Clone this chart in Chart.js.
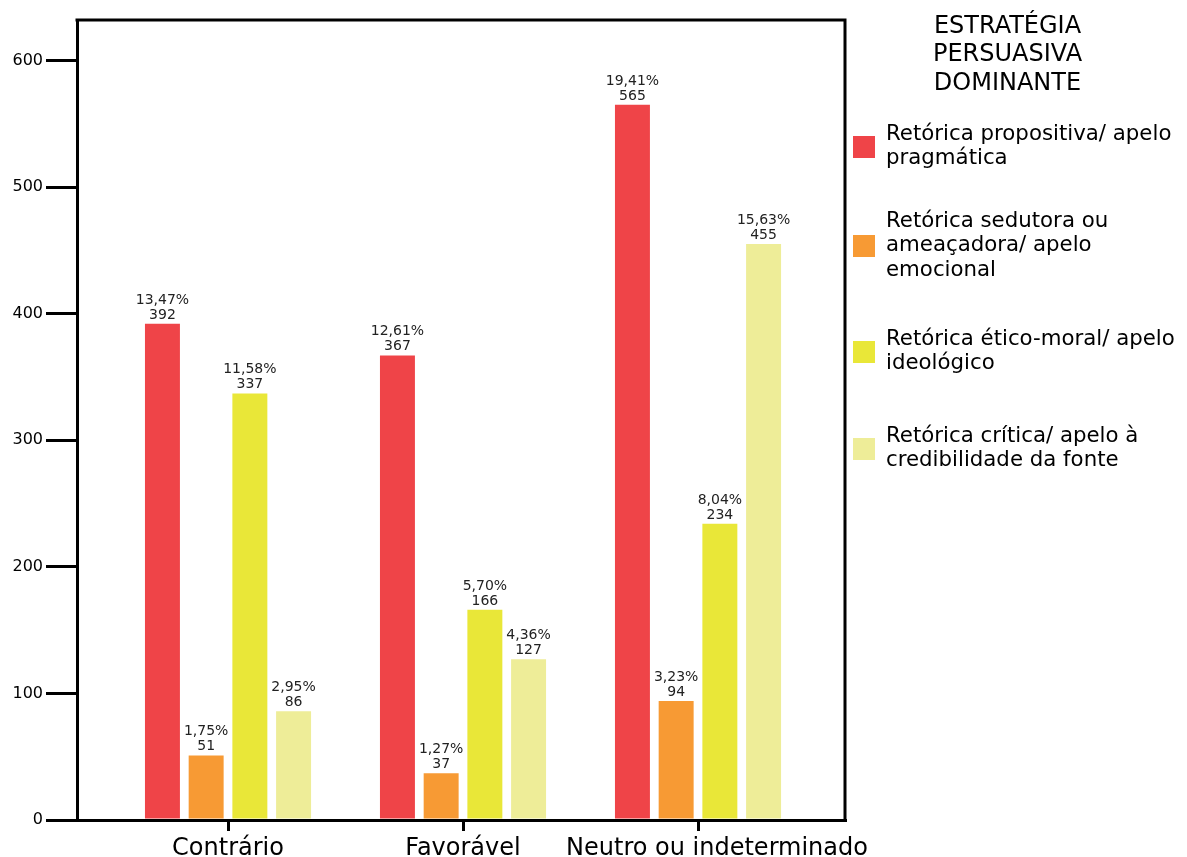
<!DOCTYPE html>
<html>
<head>
<meta charset="utf-8">
<script src="https://cdn.jsdelivr.net/npm/chart.js@4/dist/chart.umd.min.js"></script>
<style>
  html, body { margin: 0; padding: 0; background: #fff; }
  #wrap { position: relative; width: 1187px; height: 857px; font-family: 'DejaVu Sans', sans-serif; color: #000; }
  #c { position: absolute; left: 0; top: 0; }
  #ltitle { position: absolute; left: 907px; width: 201px; top: 10.5px; text-align: center; font-size: 24px; line-height: 28.5px; }
  .item { position: absolute; left: 853px; width: 334px; }
  .box { position: absolute; left: 0; width: 22px; height: 22px; }
  .txt { position: absolute; left: 33px; top: 0; font-size: 21.3px; line-height: 24.5px; white-space: nowrap; }
</style>
</head>
<body>
<div id="wrap">
  <canvas id="c" width="1187" height="857"></canvas>
  <div id="ltitle">ESTRATÉGIA<br>PERSUASIVA<br>DOMINANTE</div>
  <div id="legend"></div>
</div>
<script>
const categories = ["Contrário", "Favorável", "Neutro ou indeterminado"];
const seriesNames = [
  ["Retórica propositiva/ apelo", "pragmática"],
  ["Retórica sedutora ou", "ameaçadora/ apelo", "emocional"],
  ["Retórica ético-moral/ apelo", "ideológico"],
  ["Retórica crítica/ apelo à", "credibilidade da fonte"]
];
const propositiva = [392, 367, 565];
const sedutora = [51, 37, 94];
const eticoMoral = [337, 166, 234];
const critica = [86, 127, 455];
const propositivaPct = ["13,47%", "12,61%", "19,41%"];
const sedutoraPct = ["1,75%", "1,27%", "3,23%"];
const eticoMoralPct = ["11,58%", "5,70%", "8,04%"];
const criticaPct = ["2,95%", "4,36%", "15,63%"];
const yTicks = [0, 100, 200, 300, 400, 500, 600];
const colors = ["#EF4448", "#F79A34", "#E9E738", "#EEED98"];

const values = [propositiva, sedutora, eticoMoral, critica];
const pcts = [propositivaPct, sedutoraPct, eticoMoralPct, criticaPct];

const FONT = "'DejaVu Sans', sans-serif";

const datasets = values.map((vals, si) => ({
  label: seriesNames[si].join(" "),
  data: vals.map((v, i) => ({ x: i, y: v })),
  pct: pcts[si],
  backgroundColor: colors[si],
  borderWidth: 0,
  barPercentage: 0.8,
  categoryPercentage: 0.744
}));

const labelPlugin = {
  id: 'barLabels',
  afterDatasetsDraw(chart) {
    const ctx = chart.ctx;
    ctx.save();
    ctx.font = "14px " + FONT;
    ctx.fillStyle = "#222";
    ctx.textAlign = "center";
    ctx.textBaseline = "alphabetic";
    chart.data.datasets.forEach((ds, di) => {
      const meta = chart.getDatasetMeta(di);
      meta.data.forEach((el, i) => {
        ctx.fillText(String(ds.data[i].y), el.x, el.y - 5);
        ctx.fillText(ds.pct[i], el.x, el.y - 20);
      });
    });
    ctx.restore();
  }
};

// category labels drawn at the x scale tick positions; the last one is nudged right
// so that it does not collide with its neighbour (as in the original)
const LAST_LABEL_NUDGE = 19;
const xLabelPlugin = {
  id: 'xLabels',
  afterDraw(chart) {
    const s = chart.scales.x;
    const ctx = chart.ctx;
    ctx.save();
    ctx.font = "24px " + FONT;
    ctx.fillStyle = "#000";
    ctx.textAlign = "center";
    ctx.textBaseline = "alphabetic";
    categories.forEach((c, i) => {
      const nudge = i === categories.length - 1 ? LAST_LABEL_NUDGE : 0;
      ctx.fillText(c, s.getPixelForValue(i) + nudge, s.top + 35);
    });
    ctx.restore();
  }
};

const framePlugin = {
  id: 'frame',
  afterDraw(chart) {
    const a = chart.chartArea;
    const ctx = chart.ctx;
    ctx.save();
    ctx.strokeStyle = "#000";
    ctx.lineWidth = 3;
    ctx.beginPath();
    ctx.moveTo(a.left - 1.5, a.top);
    ctx.lineTo(a.right, a.top);
    ctx.lineTo(a.right, a.bottom + 1.5);
    ctx.stroke();
    ctx.restore();
  }
};

new Chart(document.getElementById('c'), {
  type: 'bar',
  data: { datasets },
  plugins: [labelPlugin, xLabelPlugin, framePlugin],
  options: {
    responsive: false,
    animation: false,
    layout: { padding: { left: 0, top: 20, right: 342, bottom: 0 } },
    plugins: { legend: { display: false }, tooltip: { enabled: false } },
    scales: {
      x: {
        type: 'linear',
        offset: false,
        bounds: 'data',
        min: -0.6426,
        max: 2.6255,
        afterBuildTicks: (s) => { s.ticks = categories.map((c, i) => ({ value: i })); },
        afterFit: (s) => { s.height = 37; },
        grid: { offset: false, drawOnChartArea: false, drawTicks: true, tickLength: 11, color: "#000", lineWidth: 3 },
        border: { display: true, color: "#000", width: 3 },
        ticks: { display: false, autoSkip: false, maxRotation: 0, minRotation: 0 }
      },
      y: {
        min: 0,
        max: 632,
        afterBuildTicks: (s) => { s.ticks = yTicks.map(v => ({ value: v })); },
        afterFit: (s) => { s.width = 77; },
        grid: { drawOnChartArea: false, drawTicks: true, tickLength: 31, color: "#000", lineWidth: 3 },
        border: { display: true, color: "#000", width: 3 },
        ticks: { padding: 3, color: "#000", font: { family: FONT, size: 16 } }
      }
    }
  }
});

// legend built from series names and colors
const itemTops = [120.5, 207.5, 325.5, 422.5];
const legend = document.getElementById('legend');
seriesNames.forEach((lines, i) => {
  const item = document.createElement('div');
  item.className = 'item';
  item.style.top = itemTops[i] + 'px';
  const h = lines.length * 24.5;
  const box = document.createElement('div');
  box.className = 'box';
  box.style.background = colors[i];
  box.style.top = (h / 2 - 11 + 2) + 'px';
  const txt = document.createElement('div');
  txt.className = 'txt';
  txt.innerHTML = lines.join('<br>');
  item.appendChild(box);
  item.appendChild(txt);
  legend.appendChild(item);
});
</script>
</body>
</html>
